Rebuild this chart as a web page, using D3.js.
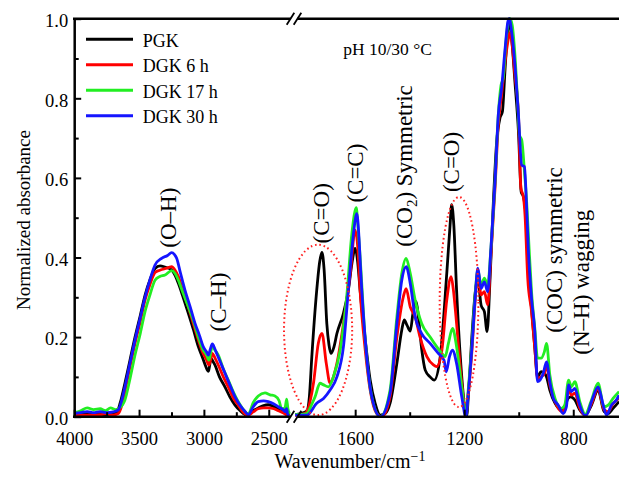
<!DOCTYPE html>
<html>
<head>
<meta charset="utf-8">
<script src="https://cdn.jsdelivr.net/npm/d3@7"></script>
<style>
  html, body { margin: 0; padding: 0; background: #fff; }
  svg { display: block; }
  text { font-family: "Liberation Serif", "Times New Roman", serif; fill: #000; }
</style>
</head>
<body>
<svg id="chart" width="619" height="477"></svg>
<script>
// ---------------- DATA ----------------
const seriesNames = ["PGK", "DGK 6 h", "DGK 17 h", "DGK 30 h"];
const seriesColors = ["#000000", "#ff0000", "#22ee22", "#1515ff"];

const pgkLeft = [[4000,0.005],[3920,0.006],[3840,0.008],[3760,0.005],[3700,0.007],[3670,0.012],[3645,0.035],[3609,0.084],[3570,0.142],[3531,0.2],[3490,0.255],[3454,0.305],[3415,0.345],[3377,0.372],[3338,0.379],[3300,0.376],[3249,0.369],[3222,0.355],[3197,0.335],[3160,0.3],[3120,0.26],[3080,0.218],[3043,0.176],[3010,0.148],[2990,0.13],[2975,0.118],[2965,0.114],[2955,0.13],[2946,0.147],[2932,0.14],[2915,0.13],[2880,0.1],[2838,0.075],[2800,0.05],[2760,0.029],[2720,0.015],[2670,0.004],[2620,0.015],[2581,0.022],[2540,0.028],[2504,0.03],[2460,0.025],[2426,0.02],[2390,0.012],[2362,0.008],[2340,0.005]];
const dgk6Left = [[4000,0.003],[3900,0.004],[3800,0.005],[3750,0.008],[3700,0.004],[3660,0.008],[3632,0.03],[3609,0.063],[3570,0.125],[3531,0.184],[3490,0.24],[3454,0.293],[3415,0.333],[3377,0.362],[3340,0.368],[3313,0.371],[3270,0.375],[3249,0.377],[3222,0.368],[3197,0.352],[3160,0.315],[3120,0.276],[3080,0.232],[3043,0.193],[3010,0.162],[2979,0.142],[2961,0.13],[2947,0.145],[2935,0.159],[2915,0.148],[2889,0.13],[2850,0.1],[2812,0.075],[2770,0.045],[2735,0.029],[2700,0.012],[2663,0.003],[2620,0.012],[2581,0.02],[2540,0.022],[2504,0.022],[2460,0.02],[2426,0.015],[2390,0.01],[2362,0.004],[2340,0.003]];
const dgk17Left = [[4000,0.01],[3950,0.015],[3900,0.022],[3850,0.018],[3800,0.02],[3760,0.015],[3720,0.022],[3680,0.018],[3650,0.022],[3627,0.03],[3609,0.042],[3570,0.095],[3531,0.155],[3490,0.21],[3454,0.264],[3415,0.307],[3377,0.343],[3340,0.352],[3300,0.356],[3249,0.367],[3222,0.36],[3197,0.343],[3160,0.31],[3120,0.276],[3080,0.24],[3043,0.2],[3010,0.17],[2979,0.155],[2961,0.142],[2948,0.16],[2935,0.18],[2920,0.17],[2889,0.155],[2850,0.12],[2812,0.092],[2770,0.06],[2735,0.038],[2700,0.02],[2658,0.007],[2620,0.035],[2581,0.052],[2529,0.06],[2490,0.055],[2452,0.052],[2420,0.04],[2401,0.02],[2375,0.022],[2362,0.044],[2352,0.02],[2340,0.007]];
const dgk30Left = [[4000,0.008],[3950,0.01],[3900,0.013],[3850,0.01],[3800,0.013],[3750,0.01],[3700,0.012],[3660,0.017],[3635,0.04],[3609,0.075],[3570,0.135],[3531,0.193],[3490,0.25],[3454,0.3],[3415,0.345],[3377,0.381],[3326,0.398],[3280,0.405],[3249,0.412],[3228,0.408],[3210,0.398],[3180,0.36],[3146,0.318],[3105,0.275],[3069,0.235],[3035,0.205],[3005,0.176],[2980,0.163],[2966,0.155],[2950,0.17],[2935,0.183],[2915,0.17],[2901,0.159],[2870,0.135],[2837,0.109],[2800,0.08],[2760,0.05],[2720,0.028],[2683,0.013],[2658,0.005],[2620,0.025],[2581,0.038],[2540,0.04],[2504,0.038],[2460,0.032],[2426,0.025],[2390,0.018],[2375,0.013],[2362,0.02],[2352,0.003],[2340,0.003]];

const pgkRight = [[1820,0.005],[1800,0.008],[1777,0.015],[1768,0.05],[1759,0.151],[1741,0.318],[1730,0.39],[1722,0.413],[1714,0.37],[1704,0.234],[1696,0.18],[1689,0.159],[1678,0.175],[1667,0.209],[1643,0.26],[1625,0.318],[1612,0.385],[1600,0.423],[1591,0.39],[1582,0.318],[1563,0.193],[1545,0.092],[1527,0.034],[1508,0.004],[1490,0.008],[1472,0.034],[1447,0.134],[1429,0.218],[1420,0.243],[1410,0.23],[1398,0.215],[1388,0.26],[1376,0.289],[1368,0.25],[1356,0.17],[1343,0.117],[1325,0.1],[1310,0.092],[1288,0.151],[1264,0.36],[1252,0.48],[1246,0.533],[1238,0.48],[1228,0.318],[1209,0.1],[1197,0.017],[1191,0.002],[1185,0.05],[1172,0.2],[1160,0.31],[1150,0.348],[1138,0.28],[1126,0.264],[1116,0.214],[1105,0.35],[1093,0.54],[1081,0.69],[1069,0.75],[1060,0.766],[1050,0.875],[1040,0.976],[1035,0.99],[1026,0.95],[1014,0.842],[1001,0.716],[991,0.565],[983,0.553],[974,0.507],[965,0.373],[953,0.272],[941,0.172],[931,0.1],[918,0.113],[906,0.109],[898,0.1],[886,0.067],[867,0.034],[843,0.017],[831,0.025],[819,0.046],[809,0.05],[794,0.042],[776,0.017],[756,0.004],[733,0.029],[709,0.067],[687,0.013],[672,0.008],[654,0.021],[632,0.038]];
const dgk6Right = [[1820,0.003],[1800,0.005],[1777,0.012],[1765,0.04],[1753,0.084],[1735,0.185],[1722,0.209],[1706,0.134],[1692,0.084],[1680,0.1],[1667,0.134],[1643,0.234],[1618,0.36],[1600,0.469],[1590,0.42],[1582,0.318],[1563,0.167],[1545,0.067],[1521,0.008],[1502,0.0],[1472,0.05],[1447,0.2],[1423,0.302],[1413,0.322],[1398,0.276],[1380,0.251],[1362,0.2],[1337,0.151],[1313,0.13],[1301,0.126],[1282,0.167],[1264,0.293],[1248,0.352],[1240,0.32],[1228,0.234],[1209,0.084],[1194,0.008],[1185,0.06],[1172,0.163],[1160,0.29],[1150,0.364],[1138,0.306],[1126,0.314],[1114,0.281],[1102,0.406],[1087,0.574],[1075,0.733],[1063,0.808],[1050,0.892],[1038,0.95],[1032,0.965],[1024,0.934],[1014,0.858],[1001,0.758],[992,0.574],[983,0.553],[977,0.507],[967,0.348],[953,0.264],[941,0.172],[931,0.096],[918,0.1],[906,0.109],[898,0.13],[886,0.08],[867,0.038],[843,0.013],[831,0.02],[817,0.071],[807,0.054],[794,0.059],[776,0.021],[756,0.004],[733,0.033],[709,0.071],[687,0.017],[672,0.013],[654,0.033],[632,0.046]];
const dgk17Right = [[1820,0.006],[1800,0.006],[1777,0.008],[1760,0.03],[1747,0.05],[1729,0.084],[1716,0.08],[1698,0.075],[1680,0.1],[1655,0.167],[1631,0.302],[1612,0.461],[1596,0.525],[1590,0.48],[1582,0.402],[1563,0.193],[1539,0.05],[1508,0.0],[1472,0.067],[1447,0.251],[1429,0.36],[1413,0.398],[1398,0.36],[1380,0.293],[1356,0.234],[1325,0.2],[1301,0.176],[1282,0.159],[1270,0.151],[1258,0.184],[1243,0.222],[1228,0.176],[1209,0.075],[1194,0.004],[1185,0.07],[1172,0.18],[1160,0.306],[1150,0.368],[1138,0.33],[1126,0.348],[1114,0.33],[1102,0.423],[1087,0.59],[1075,0.758],[1065,0.833],[1057,0.85],[1048,0.934],[1038,0.992],[1032,1.0],[1024,0.984],[1014,0.909],[1004,0.79],[997,0.707],[989,0.695],[979,0.616],[971,0.54],[962,0.423],[953,0.314],[941,0.222],[931,0.147],[918,0.147],[906,0.163],[898,0.184],[886,0.105],[867,0.046],[843,0.021],[831,0.03],[817,0.092],[807,0.075],[794,0.088],[776,0.038],[756,0.006],[733,0.042],[709,0.084],[687,0.025],[672,0.029],[654,0.046],[632,0.063]];
const dgk30Right = [[1820,0.004],[1800,0.004],[1777,0.004],[1741,0.034],[1716,0.046],[1692,0.067],[1667,0.1],[1643,0.176],[1625,0.318],[1606,0.461],[1594,0.51],[1586,0.45],[1580,0.369],[1563,0.193],[1539,0.05],[1508,0.0],[1472,0.059],[1447,0.234],[1429,0.343],[1413,0.377],[1398,0.335],[1380,0.251],[1356,0.209],[1325,0.184],[1295,0.159],[1274,0.142],[1266,0.113],[1254,0.151],[1243,0.167],[1228,0.134],[1209,0.05],[1194,0.0],[1185,0.06],[1172,0.172],[1160,0.297],[1150,0.373],[1138,0.322],[1126,0.339],[1114,0.314],[1102,0.423],[1087,0.59],[1075,0.758],[1063,0.825],[1050,0.925],[1040,0.992],[1035,1.0],[1026,0.967],[1014,0.884],[1001,0.758],[989,0.632],[979,0.628],[974,0.574],[965,0.423],[953,0.297],[941,0.214],[931,0.088],[922,0.092],[910,0.109],[898,0.138],[886,0.088],[873,0.046],[855,0.029],[837,0.008],[825,0.025],[817,0.08],[807,0.063],[794,0.071],[776,0.029],[758,0.004],[752,0.004],[733,0.038],[709,0.075],[690,0.029],[678,0.004],[660,0.029],[642,0.042],[632,0.054]];

const leftSegments = [pgkLeft, dgk6Left, dgk17Left, dgk30Left];
const rightSegments = [pgkRight, dgk6Right, dgk17Right, dgk30Right];

const leftMajorTicks = [4000, 3500, 3000, 2500];
const leftMinorTicks = [3750, 3250, 2750];
const rightMajorTicks = [1600, 1200, 800];
const rightMinorTicks = [1400, 1000];
const yMajorTicks = [0, 0.2, 0.4, 0.6, 0.8, 1.0];
const yMinorTicks = [0.1, 0.3, 0.5, 0.7, 0.9];

// annotations: [text, segment, wavenumber(baseline), absorbance(center)]
const peakLabels = [
  ["(O\u2013H)", "L", 3215, 0.50],
  ["(C\u2013H)", "L", 2830, 0.288],
  ["(C=O)", "R", 1695, 0.511],
  ["(C=C)", "R", 1572, 0.612],
  ["CO2", "R", 1391, 0.63],
  ["(C=O)", "R", 1219, 0.64],
  ["(COC) symmetric", "R", 841, 0.419],
  ["(N\u2013H) wagging", "R", 742, 0.338]
];
// dotted ellipses: [center wavenumber, center absorbance, half-width (cm-1), half-height]
const ellipses = [[1736, 0.218, 125, 0.214], [1219, 0.288, 71, 0.264]];

// ---------------- CHART ----------------
const svg = d3.select("#chart");
const yTop = 18.7, yBot = 416.7;
const xL = d3.scaleLinear().domain([4000, 2340]).range([74.2, 289.5]);
const xR = d3.scaleLinear().domain([1820, 630]).range([295.2, 619.6]);
const y = d3.scaleLinear().domain([0, 1]).range([yBot, yTop]);

const font = '"Liberation Serif", "Times New Roman", serif';

// curves
const lineL = d3.line().x(d => xL(d[0])).y(d => y(d[1])).curve(d3.curveMonotoneX);
const lineR = d3.line().x(d => xR(d[0])).y(d => y(d[1])).curve(d3.curveMonotoneX);
const gLines = svg.append("g");
seriesNames.forEach((n, i) => {
  gLines.append("path").attr("d", lineL(leftSegments[i]))
    .attr("fill", "none").attr("stroke", seriesColors[i]).attr("stroke-width", 2.8)
    .attr("stroke-linejoin", "round");
  gLines.append("path").attr("d", lineR(rightSegments[i]))
    .attr("fill", "none").attr("stroke", seriesColors[i]).attr("stroke-width", 2.8)
    .attr("stroke-linejoin", "round");
});

// ellipses
ellipses.forEach(e => {
  svg.append("ellipse")
    .attr("cx", xR(e[0])).attr("cy", y(e[1]))
    .attr("rx", Math.abs(xR(e[0] + e[2]) - xR(e[0])))
    .attr("ry", Math.abs(y(e[3]) - y(0)))
    .attr("fill", "none").attr("stroke", "#ff2020").attr("stroke-width", 2)
    .attr("stroke-dasharray", "1.6,2.8");
});

// axes
function styleAxis(g) {
  g.selectAll("path.domain").attr("stroke", "#000").attr("stroke-width", 2.5);
  g.selectAll(".tick line").attr("stroke", "#000").attr("stroke-width", 2);
  g.selectAll("text").attr("font-family", font).attr("font-size", 18.5).attr("fill", "#000");
}
const gxL = svg.append("g").attr("transform", `translate(0,${yBot})`)
  .call(d3.axisBottom(xL).tickValues(leftMajorTicks).tickSize(-7).tickSizeOuter(0).tickPadding(15).tickFormat(d3.format("d")));
styleAxis(gxL);
const gxLm = svg.append("g").attr("transform", `translate(0,${yBot})`)
  .call(d3.axisBottom(xL).tickValues(leftMinorTicks).tickSize(-4.5).tickSizeOuter(0).tickFormat(""));
styleAxis(gxLm);
const gxR = svg.append("g").attr("transform", `translate(0,${yBot})`)
  .call(d3.axisBottom(xR).tickValues(rightMajorTicks).tickSize(-7).tickSizeOuter(0).tickPadding(15).tickFormat(d3.format("d")));
styleAxis(gxR);
const gxRm = svg.append("g").attr("transform", `translate(0,${yBot})`)
  .call(d3.axisBottom(xR).tickValues(rightMinorTicks).tickSize(-4.5).tickSizeOuter(0).tickFormat(""));
styleAxis(gxRm);
[gxL, gxLm, gxR, gxRm].forEach(g => g.selectAll("path.domain").remove());

const gy = svg.append("g").attr("transform", `translate(${xL(4000)},0)`)
  .call(d3.axisLeft(y).tickValues(yMajorTicks).tickSize(-7).tickSizeOuter(0).tickPadding(6).tickFormat(d3.format(".1f")));
styleAxis(gy);
gy.selectAll(".tick text").attr("dy", "0.42em");
const gym = svg.append("g").attr("transform", `translate(${xL(4000)},0)`)
  .call(d3.axisLeft(y).tickValues(yMinorTicks).tickSize(-4.5).tickSizeOuter(0).tickFormat(""));
styleAxis(gym);
gym.selectAll("path.domain").remove();

// bottom & top frame lines with break
const brk1 = 290.5, brk2 = 297.5;
[yBot, yTop].forEach(yy => {
  svg.append("line").attr("x1", xL(4000) - 1.2).attr("x2", brk1).attr("y1", yy).attr("y2", yy)
    .attr("stroke", "#000").attr("stroke-width", 2.5);
  svg.append("line").attr("x1", brk2).attr("x2", 619).attr("y1", yy).attr("y2", yy)
    .attr("stroke", "#000").attr("stroke-width", 2.5);
  [brk1, brk2].forEach(bx => {
    svg.append("line").attr("x1", bx - 3.8).attr("y1", yy + 6).attr("x2", bx + 3.8).attr("y2", yy - 6)
      .attr("stroke", "#000").attr("stroke-width", 1.8);
  });
});

// axis titles
svg.append("text").attr("x", 350).attr("y", 467.5).attr("text-anchor", "middle")
  .attr("font-size", 20)
  .text("Wavenumber/cm")
  .append("tspan").attr("dy", -7).attr("font-size", 14).text("\u22121");
svg.append("text").attr("transform", "translate(29.5,220) rotate(-90)")
  .attr("text-anchor", "middle").attr("font-size", 19)
  .text("Normalized absorbance");

// legend
const legend = svg.append("g");
seriesNames.forEach((n, i) => {
  const ly = 39.3 + i * 25.5;
  legend.append("line").attr("x1", 86).attr("x2", 133).attr("y1", ly).attr("y2", ly)
    .attr("stroke", seriesColors[i]).attr("stroke-width", 3);
  legend.append("text").attr("x", 142.7).attr("y", ly + 7.5).attr("font-size", 18).text(n);
});

// condition label
svg.append("text").attr("x", xR(1644)).attr("y", y(0.909)).attr("font-size", 17.5)
  .text("pH 10/30 \u00B0C");

// peak labels (rotated)
peakLabels.forEach(p => {
  const px = (p[1] === "L" ? xL : xR)(p[2]);
  const py = y(p[3]);
  const t = svg.append("text").attr("transform", `translate(${px},${py}) rotate(-90)`)
    .attr("text-anchor", "middle").attr("font-size", 23);
  if (p[0] === "CO2") {
    t.append("tspan").text("(CO");
    t.append("tspan").attr("font-size", 15).attr("dy", 5).text("2");
    t.append("tspan").attr("dy", -5).text(") Symmetric");
  } else {
    t.text(p[0]);
  }
});
</script>
</body>
</html>
